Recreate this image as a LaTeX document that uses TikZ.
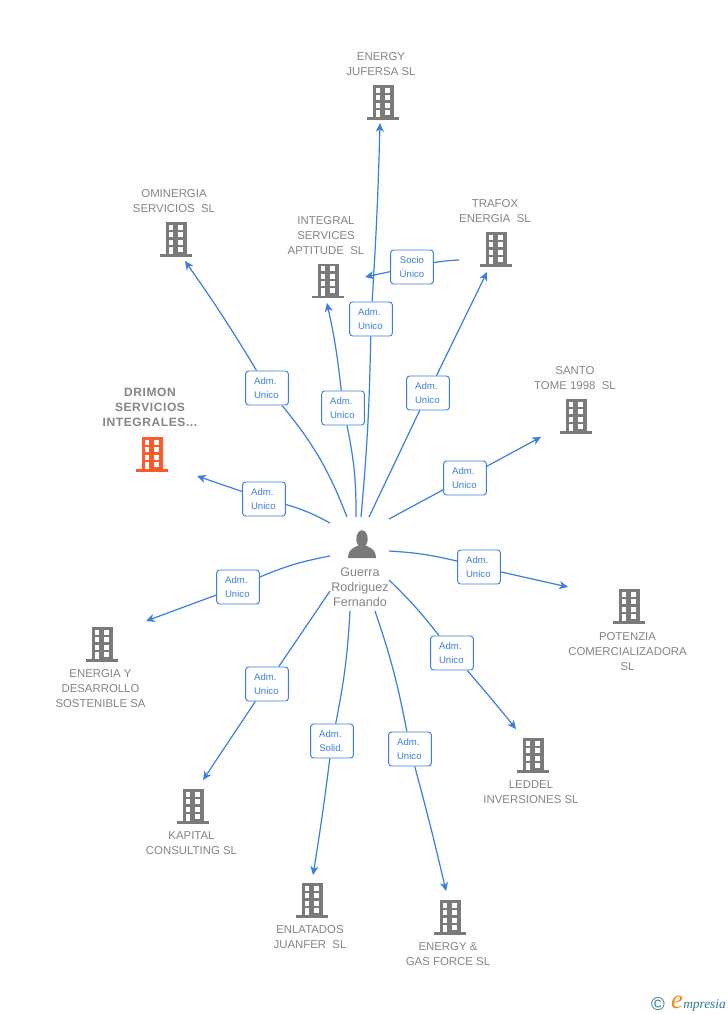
\documentclass[tikz,border=0pt]{standalone}
\usepackage{fontspec}
\setmainfont{Liberation Sans}
\newfontfamily\logofont{Liberation Serif}
\usetikzlibrary{arrows.meta}
\definecolor{blu}{HTML}{3A7FE0}
\definecolor{gry}{HTML}{7A7A7A}
\definecolor{txt}{HTML}{858585}
\definecolor{org}{HTML}{FF5A2B}
\definecolor{teal1}{HTML}{2F7A96}
\definecolor{org2}{HTML}{F08A1D}
\tikzset{
  x=0.75pt,y=-0.75pt,
  badge/.style={draw=blu,line width=0.7pt,fill=white,rounded corners=2.2pt,minimum width=32pt,minimum height=25.5pt,inner sep=0pt,align=center,text=blu,font=\fontsize{7.2}{11}\selectfont},
  lbl/.style={align=center,text=txt,inner sep=0pt,font=\fontsize{8.55}{11.25}\selectfont},
  drim/.style={align=center,text=txt,inner sep=0pt,font=\fontsize{9}{11.25}\selectfont\bfseries\addfontfeatures{LetterSpace=5}},
  conn/.style={draw=blu,line width=0.9pt},
  arr/.style={conn,-{Stealth[length=6.5pt,width=6pt,inset=1.8pt]}},
  bnode/.style={inner sep=0pt,minimum width=24pt,minimum height=25.5pt}
}
\newcommand{\bldg}[4]{%
  \node[bnode] (#1) at (#2,#3) {};
  \begin{scope}[shift={(#2,#3)}]
    \fill[#4] (-10.5,-17) rectangle (10.5,16);
    \fill[#4] (-16,15) rectangle (16,17.5);
    \foreach \yy in {-14.5,-7,0.5}{
      \fill[white] (-7.5,\yy) rectangle (-2.8,\yy+5);
      \fill[white] (2.4,\yy) rectangle (7,\yy+5);
    }
    \fill[white] (-7.5,7.5) rectangle (-2.8,15);
    \fill[white] (2.4,7.5) rectangle (7,12.5);
  \end{scope}}
\newcommand{\admu}{Adm.\kern2.5pt\\Unico\kern1pt}
% name, start, badge x, badge y, end, text
\newcommand{\rel}[8]{%
  \coordinate (s#1) at (#2,#3);
  \coordinate (e#1) at (#6,#7);
  \node[badge] (r#1) at (#4,#5) {#8};
  \draw[conn] (s#1) to[#1b] (r#1);
  \draw[arr] (r#1) to[#1u] (e#1);}
\tikzset{
  ab/.style={bend right=2},au/.style={bend right=1},
  bb/.style={bend right=9},bu/.style={bend right=2},
  cb/.style={bend right=6},cu/.style={bend right=3},
  db/.style={bend right=0},du/.style={bend right=0},
  eb/.style={bend right=0},eu/.style={bend right=0},
  fb/.style={bend left=5},fu/.style={bend left=0},
  gb/.style={bend left=4},gu/.style={bend left=1},
  hb/.style={bend left=4},hu/.style={bend left=1},
  ib/.style={bend left=4},iu/.style={bend left=1},
  jb/.style={bend left=0},ju/.style={bend left=0},
  kb/.style={bend right=6},ku/.style={bend right=0},
  lb/.style={bend right=6},lu/.style={bend right=0},
  mb/.style={bend right=3},mu/.style={bend right=0}
}
\begin{document}
\begin{tikzpicture}
\useasboundingbox (0,0) rectangle (728,1015);
\fill[white] (0,0) rectangle (728,1015);
% buildings and labels
\bldg{b1}{383}{102}{gry}
\node[lbl] (l1) at (381,64) {ENERGY\\JUFERSA SL};
\bldg{b2}{176}{239}{gry}
\node[lbl] (l2) at (174,201) {OMINERGIA\\SERVICIOS\ \ SL};
\bldg{b3}{328}{280.5}{gry}
\node[lbl] (l3) at (326,236) {INTEGRAL\\SERVICES\\APTITUDE\ \ SL};
\bldg{b4}{496}{249}{gry}
\node[lbl] (l4) at (495,211) {TRAFOX\\ENERGIA\ \ SL};
\bldg{b5}{576}{416}{gry}
\node[lbl] (l5) at (575,378) {SANTO\\TOME 1998\ \ SL};
\bldg{b6}{629}{606}{gry}
\node[lbl] (l6) at (627.5,651.5) {POTENZIA\\COMERCIALIZADORA\\SL};
\bldg{b7}{533}{755}{gry}
\node[lbl] (l7) at (531,792) {LEDDEL\\INVERSIONES SL};
\bldg{b8}{450}{917}{gry}
\node[lbl] (l8) at (448,954) {ENERGY \&\\GAS FORCE SL};
\bldg{b9}{312}{900}{gry}
\node[lbl] (l9) at (310,937) {ENLATADOS\\JUANFER\ \ SL};
\bldg{b10}{193}{806}{gry}
\node[lbl] (l10) at (191.5,843) {KAPITAL\\CONSULTING SL};
\bldg{b11}{102}{644}{gry}
\node[lbl] (l11) at (100.5,688.5) {ENERGIA Y\\DESARROLLO\\SOSTENIBLE SA};
\bldg{b12}{152}{454}{org}
\node[drim] (l12) at (150,407) {DRIMON\\SERVICIOS\\INTEGRALES...};
% connectors with badges
\rel{a}{361}{517}{371}{319}{380}{123}{\admu}
\rel{b}{347}{517}{267}{388}{185}{261}{\admu}
\rel{c}{356}{517}{343}{408}{327}{303}{\admu}
\rel{d}{369}{517}{428}{393}{487}{272}{\admu}
\rel{e}{389}{519}{465}{478}{541}{437}{\admu}
\rel{f}{389}{551}{479}{567}{568}{587}{\admu}
\rel{g}{389}{580}{452}{653}{516}{729}{\admu}
\rel{h}{375}{611}{410}{749}{446}{891}{\admu}
\rel{i}{350}{611}{332}{741}{313}{875}{Adm.\kern2.5pt\\Solid.\kern1pt}
\rel{j}{330}{591}{267}{684}{203}{780}{\admu}
\rel{k}{330}{556}{238}{587}{146}{621}{\admu}
\rel{l}{330}{523}{264}{499}{197}{476}{\admu}
\rel{m}{459}{260}{412}{267}{365}{277}{Socio\\Único}
% person
\node[inner sep=0pt,minimum width=21pt,minimum height=21pt] (p) at (362,544) {};
\fill[gry] (362,539) ellipse (5.7 and 8.8);
\fill[gry] (348,558) .. controls (348,551) and (351,549) .. (357,546) -- (367,546) .. controls (373,549) and (376,551) .. (376,558) -- cycle;
\node[lbl,font=\fontsize{9.4}{11.25}\selectfont] (pl) at (360,587) {Guerra\\Rodriguez\\Fernando};
% logo
\node[inner sep=0pt,text=teal1,font=\fontsize{14}{14}\selectfont] (c) at (658,1004) {©};
\node[inner sep=0pt,text=org2,font=\fontsize{20}{20}\selectfont\logofont\itshape] (e) at (677,1002) {e};
\node[inner sep=0pt,text=teal1,anchor=west,font=\fontsize{10}{10}\selectfont\logofont\itshape] (m) at (683,1005) {mpresia};
\end{tikzpicture}
\end{document}
